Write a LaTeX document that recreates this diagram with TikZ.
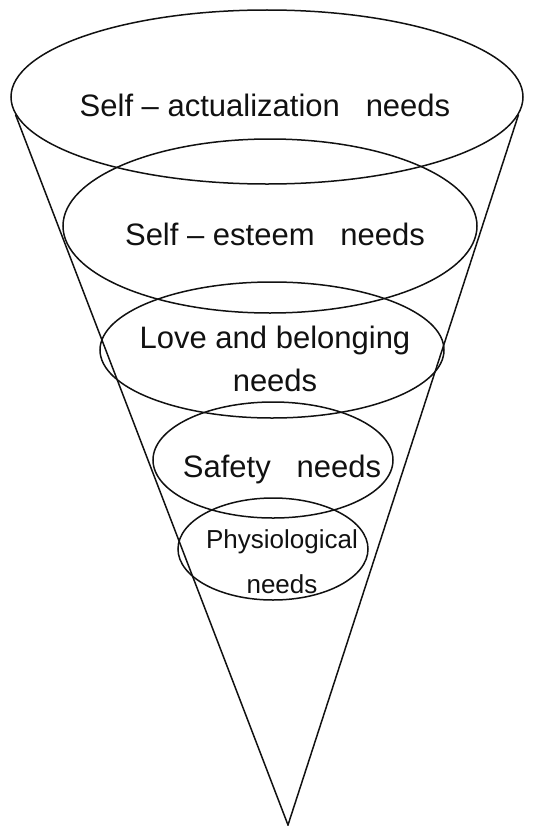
\documentclass[tikz,border=0pt]{standalone}
\usepackage{fontspec}
\setmainfont{Liberation Sans}
\usepackage{xcolor}
\definecolor{dnden}{HTML}{111111}
\def\mauvien{dnden}
\usetikzlibrary{calc,shapes.geometric,positioning}
\begin{document}
\begin{tikzpicture}[x=1bp,y=-1bp]
		\tikzstyle{vongstyle} = [draw=\mauvien,ellipse,line width=1.5bp,inner sep=0pt]
		\tikzstyle{linestyle} = [draw=\mauvien,line width=1.5bp]
		\tikzstyle{chustyle} = [text=\mauvien,align=center,inner sep=0pt,font=\fontsize{31bp}{43bp}\selectfont]
		\useasboundingbox (0,0) rectangle (538,826);
		% cac vong
		\node[vongstyle,minimum width=512bp,minimum height=174bp] (tuthe) at (267,97) {};
		\node[vongstyle,minimum width=414bp,minimum height=174bp] (tontrong) at (270,226) {};
		\node[vongstyle,minimum width=344bp,minimum height=136bp] (tinhyeu) at (272,350) {};
		\node[vongstyle,minimum width=240bp,minimum height=116bp] (antoan) at (273,460) {};
		\node[vongstyle,minimum width=190bp,minimum height=102bp] (sinhly) at (273,549) {};
		% hinh non
		\coordinate (dinh) at (288,825);
		\draw[linestyle] (tuthe.184)--(dinh)--(tuthe.-4);
		% chu
		\node[chustyle] (chututhe) at (265,105) {Self – actualization\ \ \ needs};
		\node[chustyle] (chutontrong) at (275,234) {Self – esteem\ \ \ needs};
		\node[chustyle] (chutinhyeu) at (275,359) {Love and belonging\\needs};
		\node[chustyle] (chuantoan) at (282,469) {Safety\ \ \ needs};
		\node[chustyle,font=\fontsize{26bp}{45bp}\selectfont] (chusinhly) at (282,562) {Physiological\\needs};
\end{tikzpicture}
\end{document}
